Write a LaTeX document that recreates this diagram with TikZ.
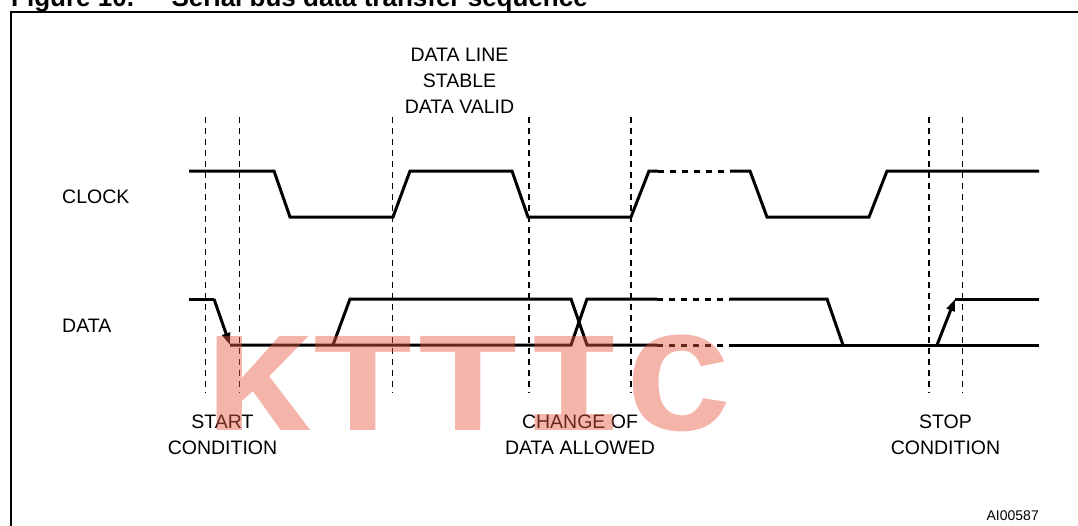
\documentclass[tikz,border=0pt]{standalone}
\usepackage{fontspec}
\setmainfont{Liberation Sans}
\newfontfamily\markfont{Liberation Mono}
\usetikzlibrary{arrows.meta}
\definecolor{markred}{RGB}{232,88,66}

\tikzset{
  signal/.style={line width=3pt, line join=miter},
  gapline/.style={line width=3pt, dash pattern=on 6pt off 6pt},
  guide/.style={line width=1.2pt, dash pattern=on 6pt off 5pt},
  lbl/.style={font=\fontsize{19.5}{26}\selectfont, inner sep=0pt, align=center},
  edgetip/.style={-{Triangle[length=12pt,width=8pt]}}
}

\begin{document}
\begin{tikzpicture}[x=1pt, y=-1pt]
    \useasboundingbox (0,0) rectangle (1078,525);
    \clip (0,0) rectangle (1078,525);
    % title and frame
    \node[anchor=base west, inner sep=0pt, font=\fontsize{26}{30}\selectfont\bfseries] (fig) at (11, 6) {Figure 10.};
    \node[anchor=base east, inner sep=0pt, font=\fontsize{26}{30}\selectfont\bfseries] (title) at (588, 6) {Serial bus data transfer sequence};
    \draw[line width=2pt] (11, 12) rectangle (1100, 600);
    % guide lines
    \foreach \x in {205.7, 239.3, 392.7, 529, 631, 929, 962.7}
        \draw[guide] (\x, 117) -- (\x, 393);
    % clock
    \draw[signal] (189, 171) -- (274, 171) -- (290, 217) -- (393, 217) -- (410, 171) -- (512, 171) -- (528, 217) -- (631, 217) -- (649, 171) -- (658, 171);
    \draw[gapline] (658, 171) -- (730, 171);
    \draw[signal] (730, 171) -- (750, 171) -- (767, 217) -- (869, 217) -- (887, 171) -- (1039, 171);
    % data
    \draw[signal] (189, 299) -- (214, 299);
    \draw[signal, edgetip] (214, 299) -- (230, 345);
    \draw[signal] (230, 345) -- (571, 345) -- (587, 299) -- (657, 299);
    \draw[signal] (333, 345) -- (350, 299) -- (571, 299) -- (587, 345) -- (657, 345);
    \draw[gapline] (657, 299) -- (730, 299);
    \draw[gapline] (657, 345) -- (730, 345);
    \draw[signal] (730, 299) -- (827, 299) -- (843, 345);
    \draw[signal] (730, 345) -- (1039, 345);
    \draw[signal, edgetip] (937, 345) -- (955, 299);
    \draw[signal] (955, 299) -- (1039, 299);
    % labels (multi-line: base = last line)
    \node[lbl, anchor=base west] (clk) at (62, 203) {CLOCK};
    \node[lbl, anchor=base west] (dat) at (62, 332) {DATA};
    \node[lbl, anchor=base] (stable) at (459.5, 113) {DATA LINE\\STABLE\\DATA VALID};
    \node[lbl, anchor=base] (start) at (222.5, 454) {START\\CONDITION};
    \node[lbl, anchor=base] (change) at (580, 454) {CHANGE OF\\DATA ALLOWED};
    \node[lbl, anchor=base] (stop) at (945.5, 454) {STOP\\CONDITION};
    \node[anchor=base east, inner sep=0pt, font=\fontsize{14}{16}\selectfont] (ref) at (1039, 520) {AI00587};
    % watermark
    \node[anchor=base west, inner sep=0pt, text=markred, opacity=0.45, font=\fontsize{168}{168}\selectfont\markfont\bfseries] (mark) at (205, 430) {\scalebox{1.045}[0.85]{KTTIC}};
\end{tikzpicture}
\end{document}
